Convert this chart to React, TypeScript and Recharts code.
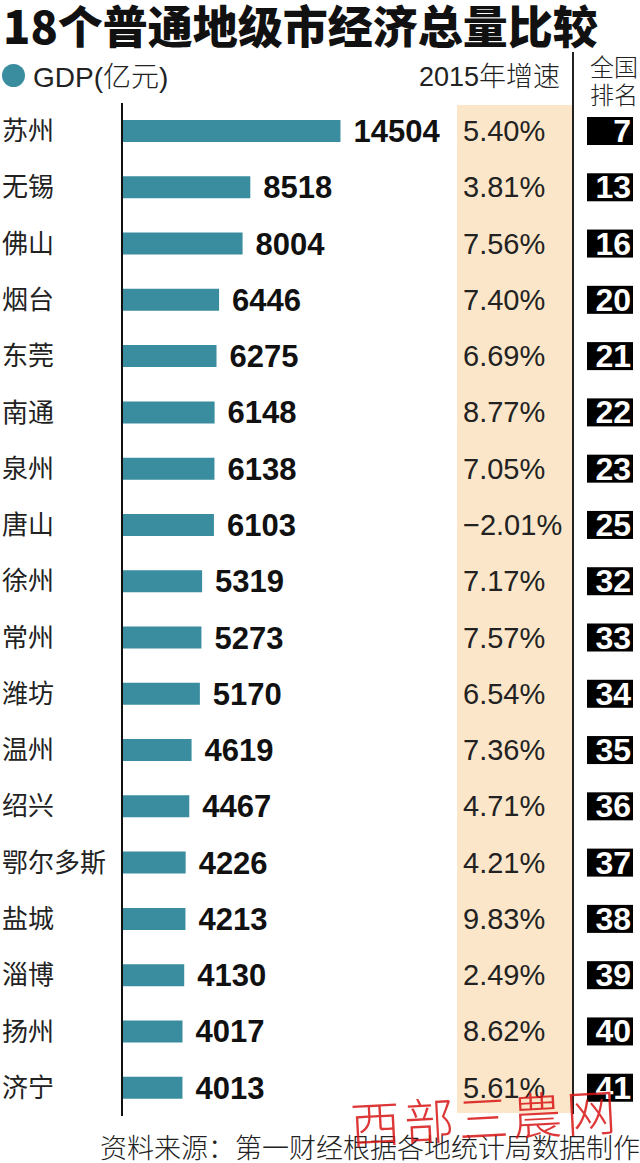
import React from 'react';
import { BarChart, Bar, XAxis, YAxis, LabelList } from 'recharts';

const cities = ['苏州', '无锡', '佛山', '烟台', '东莞', '南通', '泉州', '唐山', '徐州', '常州', '潍坊', '温州', '绍兴', '鄂尔多斯', '盐城', '淄博', '扬州', '济宁'];
const gdp = [14504, 8518, 8004, 6446, 6275, 6148, 6138, 6103, 5319, 5273, 5170, 4619, 4467, 4226, 4213, 4130, 4017, 4013];
const growth = [5.4, 3.81, 7.56, 7.4, 6.69, 8.77, 7.05, -2.01, 7.17, 7.57, 6.54, 7.36, 4.71, 4.21, 9.83, 2.49, 8.62, 5.61];
const rank = [7, 13, 16, 20, 21, 22, 23, 25, 32, 33, 34, 35, 36, 37, 38, 39, 40, 41];

const data = cities.map((city, i) => ({ city, gdp: gdp[i], growth: growth[i], rank: rank[i] }));

const LATIN = '"Liberation Sans", "Noto Sans CJK SC", sans-serif';
const CJK = '"Noto Sans CJK SC", "Liberation Sans", sans-serif';
const TEAL = '#3a8c9f';

const fmtGrowth = (v: number) => (v < 0 ? '\u2212' : '') + Math.abs(v).toFixed(2) + '%';

const CityTick = (props: any) => {
  const { y, payload } = props;
  return (
    <text x={2} y={y} dy={9} textAnchor="start" fontSize={26} fontFamily={CJK} fill="#222">
      {payload.value}
    </text>
  );
};

const ValueLabel = (props: any) => {
  const { x, y, width, height, value } = props;
  return (
    <text x={x + width + 13} y={y + height / 2} dy={11} fontSize={31} fontWeight="bold" fontFamily={LATIN} fill="#111">
      {value}
    </text>
  );
};

const GrowthLabel = (props: any) => {
  const { y, height, value } = props;
  return (
    <text x={463} y={y + height / 2} dy={10} fontSize={29} fontFamily={LATIN} fill="#222">
      {fmtGrowth(value)}
    </text>
  );
};

const RankLabel = (props: any) => {
  const { y, height, value } = props;
  const cy = y + height / 2;
  return (
    <g>
      <rect x={587} y={cy - 14} width={46} height={28} fill="#000" />
      <text x={631} y={cy} dy={11} textAnchor="end" fontSize={32} fontWeight="bold" fontFamily={LATIN} fill="#fff">
        {value}
      </text>
    </g>
  );
};

const abs = (s: React.CSSProperties): React.CSSProperties => ({ position: 'absolute', margin: 0, ...s });

export default function App() {
  return (
    <div style={{ position: 'absolute', left: 0, top: 0, width: 640, height: 1163, background: '#fff', overflow: 'hidden' }}>
      {/* growth column background and divider */}
      <div style={abs({ left: 457, top: 105, width: 115, height: 1008, background: '#fbe6c9' })} />
      <div style={abs({ left: 572, top: 52, width: 2, height: 1062, background: '#222' })} />

      <div style={abs({ left: 0, top: 0 })}>
        <BarChart
          width={640}
          height={1163}
          data={data}
          layout="vertical"
          margin={{ top: 103, right: 277, left: 0, bottom: 47 }}
        >
          <XAxis type="number" domain={[0, 16000]} hide />
          <YAxis
            type="category"
            dataKey="city"
            width={122}
            tickLine={false}
            axisLine={{ stroke: '#111', strokeWidth: 2 }}
            tick={<CityTick />}
            interval={0}
          />
          <Bar dataKey="gdp" fill={TEAL} barSize={22} isAnimationActive={false}>
            <LabelList dataKey="gdp" content={<ValueLabel />} />
            <LabelList dataKey="growth" content={<GrowthLabel />} />
            <LabelList dataKey="rank" content={<RankLabel />} />
          </Bar>
        </BarChart>
      </div>

      {/* title */}
      <div style={abs({ left: 3, top: -3, fontFamily: CJK, fontWeight: 900, fontSize: 45, lineHeight: '56px', color: '#111', whiteSpace: 'nowrap' })}>
        18个普通地级市经济总量比较
      </div>

      {/* legend */}
      <div style={abs({ left: 2, top: 64, width: 23, height: 23, borderRadius: '50%', background: TEAL })} />
      <div style={abs({ left: 33, top: 58, fontFamily: LATIN, fontSize: 28, lineHeight: '34px', color: '#222', whiteSpace: 'nowrap' })}>
        GDP(<span style={{ fontFamily: CJK, fontWeight: 300 }}>亿元</span>)
      </div>

      {/* column headers */}
      <div style={abs({ right: 80, top: 59, fontFamily: LATIN, fontSize: 27, lineHeight: '32px', color: '#222', whiteSpace: 'nowrap' })}>
        2015<span style={{ fontFamily: CJK, fontWeight: 300 }}>年增速</span>
      </div>
      <div style={abs({ left: 586, top: 52, width: 56, fontFamily: CJK, fontWeight: 300, fontSize: 24, lineHeight: '27px', color: '#222', textAlign: 'center' })}>
        全国
      </div>
      <div style={abs({ left: 586, top: 80, width: 56, fontFamily: CJK, fontWeight: 300, fontSize: 24, lineHeight: '27px', color: '#222', textAlign: 'center' })}>
        排名
      </div>

      {/* source */}
      <div style={abs({ left: 100, top: 1129, fontFamily: CJK, fontWeight: 300, fontSize: 27, lineHeight: '36px', color: '#222', whiteSpace: 'nowrap' })}>
        资料来源：第一财经根据各地统计局数据制作
      </div>

      {/* watermark */}
      <div style={abs({ left: 350, top: 1086, fontFamily: CJK, fontWeight: 300, fontSize: 50, lineHeight: '58px', color: 'rgba(215,20,20,0.85)', whiteSpace: 'nowrap', transform: 'rotate(-3deg)', letterSpacing: 4 })}>
        西部三農网
      </div>
    </div>
  );
}
